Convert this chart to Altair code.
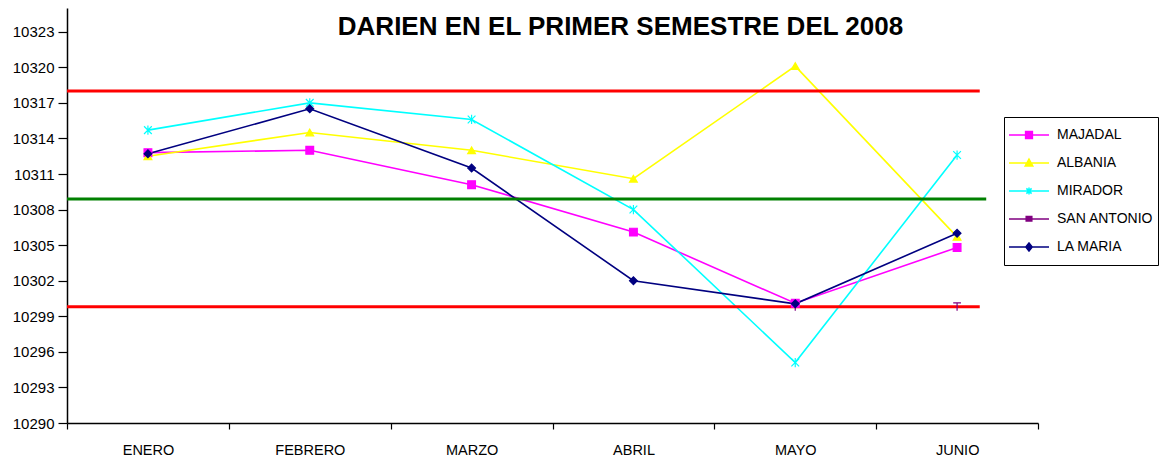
import json
import altair as alt
import pandas as pd

FONT = "Liberation Sans"

# ---- data ----
meses = ["ENERO", "FEBRERO", "MARZO", "ABRIL", "MAYO", "JUNIO"]
series = ["MAJADAL", "ALBANIA", "MIRADOR", "SAN ANTONIO", "LA MARIA"]
majadal = [10312.8, 10313.0, 10310.1, 10306.1, 10300.1, 10304.8]
albania = [10312.5, 10314.5, 10313.0, 10310.6, 10320.1, 10305.7]
mirador = [10314.7, 10317.0, 10315.6, 10308.0, 10295.1, 10312.6]
san_antonio = [None, None, None, None, 10299.8, 10299.8]
la_maria = [10312.7, 10316.5, 10311.5, 10302.0, 10300.05, 10306.0]
colores = ["#FF00FF", "#FFFF00", "#00FFFF", "#800080", "#000080"]

ref_valores = [10318.0, 10308.9, 10299.8]
ref_colores = ["#FF0000", "#008000", "#FF0000"]
ref_inicio = [0, 0, 0]
ref_fin = [5.64, 5.68, 5.64]

y_ticks = list(range(10290, 10324, 3))
titulo = "DARIEN EN EL PRIMER SEMESTRE DEL 2008"

# ---- tables ----
valores = [majadal, albania, mirador, san_antonio, la_maria]
rows = []
for s, vals in zip(series, valores):
    for i, (m, v) in enumerate(zip(meses, vals)):
        if v is not None:
            rows.append({"serie": s, "mes": m, "pos": i + 0.5, "valor": v})
df = pd.DataFrame(rows)

ref_df = pd.DataFrame({"valor": ref_valores, "color": ref_colores,
                       "x0": ref_inicio, "x1": ref_fin})

# marker shapes in the plot
point_shapes = ["square", "triangle-up",
                "M-1,-1L1,1M-1,1L1,-1M0,-1.2L0,1.2",
                "M-1,-1L1,-1M0,-1L0,1",
                "diamond"]
# legend symbols: a line with the marker on it
legend_shapes = [
    "M-1,0L1,0M-0.17,-0.17L0.17,-0.17L0.17,0.17L-0.17,0.17Z",
    "M-1,0L1,0M0,-0.2L0.19,0.15L-0.19,0.15Z",
    "M-1,0L1,0M-0.13,-0.13L0.13,0.13M-0.13,0.13L0.13,-0.13M0,-0.17L0,0.17",
    "M-1,0L1,0M-0.14,-0.12L0.14,-0.12L0.14,0.1L-0.14,0.1Z",
    "M-1,0L1,0M0,-0.2L0.16,0L0,0.2L-0.16,0Z",
]

x_axis = alt.Axis(
    values=list(range(7)),
    labelExpr=json.dumps(meses + [""]) + "[datum.value]",
    labelOffset=81, labelFlush=False, labelOverlap=False, labelBound=False,
    tickSize=6, tickColor="black", tickWidth=1.2,
    domainColor="black", domainWidth=1.5,
    labelPadding=14, labelFontSize=14.5, labelFont=FONT, labelColor="black",
    title=None, grid=False,
)
y_axis = alt.Axis(
    values=y_ticks, format="d", title=None, grid=False,
    labelOverlap=False, labelFlush=False, labelBound=False,
    tickSize=9, tickColor="black", tickWidth=1.2,
    domainColor="black", domainWidth=1.5,
    labelPadding=4, labelFontSize=15, labelFont=FONT, labelColor="black",
)
x_scale = alt.Scale(domain=[0, 6], nice=False, zero=False)
y_scale = alt.Scale(domain=[10290, 10325], nice=False, zero=False)

lines = alt.Chart(df).mark_line(strokeWidth=1.6).encode(
    x=alt.X("pos:Q", scale=x_scale, axis=x_axis),
    y=alt.Y("valor:Q", scale=y_scale, axis=y_axis),
    color=alt.Color("serie:N", scale=alt.Scale(domain=series, range=colores),
                    legend=None),
    detail="serie:N",
)

rules = alt.Chart(ref_df).mark_rule(strokeWidth=3).encode(
    x=alt.X("x0:Q", scale=x_scale, axis=x_axis),
    x2="x1:Q",
    y=alt.Y("valor:Q", scale=y_scale, axis=y_axis),
    color=alt.Color("color:N", scale=None),
)

points = alt.Chart(df).mark_point(filled=True, opacity=1, strokeWidth=1.2,
                                  size=60).encode(
    x=alt.X("pos:Q", scale=x_scale, axis=x_axis),
    y=alt.Y("valor:Q", scale=y_scale, axis=y_axis),
    fill=alt.Fill("serie:N", scale=alt.Scale(domain=series, range=colores),
                  legend=None),
    stroke=alt.Stroke("serie:N", scale=alt.Scale(domain=series, range=colores),
                      legend=None),
    shape=alt.Shape("serie:N", scale=alt.Scale(domain=series, range=point_shapes),
                    legend=None),
)

leg = alt.Legend(
    title=None, orient="none", legendX=937, legendY=109,
    strokeColor="black", fillColor="white", padding=4,
    symbolSize=1600, symbolStrokeWidth=1.5, symbolOpacity=1,
    labelFontSize=14, labelFont=FONT, labelColor="black", labelOffset=7,
    clipHeight=28, rowPadding=0,
)
legend_layer = alt.Chart(df).transform_filter("false").mark_point(
    filled=True, opacity=1).encode(
    fill=alt.Fill("serie:N", scale=alt.Scale(domain=series, range=colores),
                  legend=leg),
    stroke=alt.Stroke("serie:N", scale=alt.Scale(domain=series, range=colores),
                      legend=leg),
    shape=alt.Shape("serie:N", scale=alt.Scale(domain=series, range=legend_shapes),
                    legend=leg),
)

chart = alt.layer(lines, rules, points, legend_layer).resolve_scale(
    color="independent", fill="independent", stroke="independent",
    shape="independent",
).properties(
    width=971, height=415,
    padding={"left": 4, "top": 0, "right": 0, "bottom": 0},
    title=alt.Title(titulo, fontSize=26, fontWeight="bold", font=FONT,
                    color="black", anchor="middle", dx=68, offset=-32),
    background="white",
).configure_view(stroke=None).configure_axisY(labelOverlap=False)

chart.save("out.html", embed_options={"renderer": "svg", "actions": False})
